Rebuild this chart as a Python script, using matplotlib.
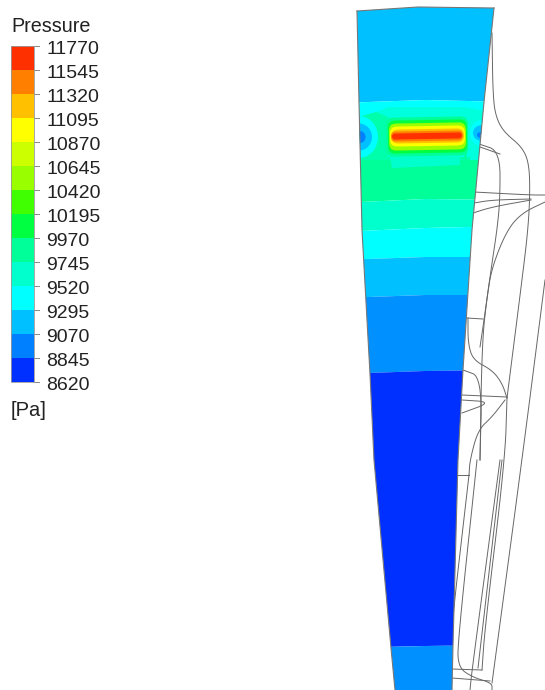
import matplotlib.pyplot as plt
from matplotlib.patches import FancyBboxPatch, Ellipse, Polygon
from matplotlib.transforms import Affine2D

plt.rcParams['font.family'] = ['Liberation Sans', 'DejaVu Sans']

# legend
tick_labels = ['11770', '11545', '11320', '11095', '10870', '10645', '10420', '10195',
               '9970', '9745', '9520', '9295', '9070', '8845', '8620']
band_colours = ['#ff3000', '#ff8000', '#ffc000', '#ffff00', '#ccff00', '#99ff00', '#40ff00',
                '#00ff40', '#00ff99', '#00ffcc', '#00ffff', '#00c0ff', '#0080ff', '#0030ff']

# blade outline, in picture pixels
blade_left = [(357, 11), (359, 102), (362, 230), (370, 374), (374, 460), (391, 648), (395, 690)]
blade_top = [(357, 11), (418, 7), (494, 8)]
blade_right = [(494, 8), (484, 102), (472, 230), (463, 370), (458, 460), (453, 645), (452, 690)]

# contour bands, top to bottom: colour and lower boundary (left, middle, right)
contour_colours = ['#00c0ff', '#00ffff', '#00ff99', '#00ffcc', '#00ffff', '#00c0ff', '#0090ff',
                   '#0030ff', '#0090ff']
contour_bottoms = [(103, 100, 102), (157, 157, 157), (203, 199, 200), (232, 228, 226),
                   (260, 257, 257), (298, 295, 295), (374, 371, 370), (648, 646, 645),
                   (690, 690, 690)]

# hot spot levels, outermost first
hot_colours = ['#00ff99', '#00ff40', '#99ff00', '#ffff00', '#ffc000', '#ff8000', '#ff3000']
hot_x0 = [386, 388, 389, 390, 391, 391, 392]
hot_x1 = [468, 467, 466, 465, 464, 463, 462]
hot_y0 = [117, 120, 123, 126, 129, 131, 133]
hot_y1 = [156, 153, 150, 146, 143, 141, 139]

# side spots: centre x, centre y, width, height, colour
spot_x = [359, 359, 360, 482, 482, 481]
spot_y = [137, 137, 137, 133, 133, 135]
spot_w = [38, 26, 11, 24, 18, 8]
spot_h = [42, 27, 12, 26, 16, 6]
spot_colours = ['#00ffff', '#00c0ff', '#0080ff', '#00ffff', '#00c0ff', '#0080ff']

wires = [
    [(492, 33), (493, 100), (497, 120), (505, 133), (522, 147), (529, 163), (530, 193), (528, 230),
     (522, 280), (507, 398)],
    [(479, 144), (500, 151), (500, 200), (497, 230), (492, 263), (483, 327), (480, 347)],
    [(480, 147), (500, 154)],
    [(474, 192), (530, 195), (545, 195)],
    [(474, 203), (492, 200), (531, 199)],
    [(473, 213), (492, 207), (531, 200)],
    [(545, 202), (522, 213), (507, 230), (492, 267), (487, 297), (482, 343), (480, 460)],
    [(545, 280), (522, 460), (492, 683)],
    [(467, 318), (483, 319)],
    [(468, 318), (468, 343), (473, 360), (492, 370), (502, 383), (507, 398)],
    [(507, 398), (505, 460), (485, 627), (482, 670)],
    [(482, 670), (451, 669)],
    [(462, 395), (507, 397)],
    [(463, 370), (482, 377), (480, 460)],
    [(477, 460), (458, 640), (458, 667), (472, 677), (492, 683), (492, 690)],
    [(462, 400), (492, 402), (462, 413)],
    [(505, 400), (492, 417), (478, 430), (470, 460), (469, 475)],
    [(469, 475), (457, 475)],
    [(469, 475), (450, 640), (452, 660)],
    [(500, 460), (472, 670), (470, 690)],
    [(502, 460), (478, 668)],
    [(452, 678), (490, 681)],
]


def smooth(points):
    # corner cutting so the wire curves do not look faceted
    for _ in range(3):
        new = [points[0]]
        for a, b in zip(points[:-1], points[1:]):
            new.append((0.75 * a[0] + 0.25 * b[0], 0.75 * a[1] + 0.25 * b[1]))
            new.append((0.25 * a[0] + 0.75 * b[0], 0.25 * a[1] + 0.75 * b[1]))
        new.append(points[-1])
        points = new
    return points


fig = plt.figure(figsize=(5.45, 6.90), dpi=100)
ax = fig.add_axes([0, 0, 1, 1])
ax.set_xlim(0, 545)
ax.set_ylim(690, 0)
ax.axis('off')

# wireframe goes under the blade
for wire in wires:
    line = smooth(wire)
    ax.plot([p[0] for p in line], [p[1] for p in line], color='#666666', lw=0.7, zorder=1)

outline = blade_top + blade_right[1:] + blade_left[::-1][:-1]
clip = Polygon(outline, closed=True, transform=ax.transData, fc='none', ec='none')
ax.add_patch(clip)


def add_clipped(patch):
    ax.add_patch(patch)
    patch.set_clip_path(clip)


# contour bands
top = (0, 0, 0)
for colour, bottom in zip(contour_colours, contour_bottoms):
    add_clipped(Polygon([(340, top[0]), (425, top[1]), (510, top[2]),
                         (510, bottom[2]), (425, bottom[1]), (340, bottom[0])],
                        closed=True, fc=colour, ec='none', zorder=2))
    top = bottom

# zones behind the hot spot
add_clipped(Polygon([(355, 122), (376, 112), (388, 107), (465, 107), (490, 112), (490, 160), (355, 160)],
                    closed=True, fc='#00ffdd', ec='none', zorder=3))
add_clipped(Polygon([(355, 160), (355, 118), (376, 112), (388, 117), (388, 157), (470, 157), (470, 160)],
                    closed=True, fc='#00ffaa', ec='none', zorder=3))
add_clipped(Polygon([(390, 156), (460, 156), (460, 165), (392, 168)],
                    closed=True, fc='#00ffcc', ec='none', zorder=3))
add_clipped(Polygon([(464, 152), (467, 152), (465, 166)],
                    closed=True, fc='#00ff99', ec='none', zorder=3))

# low pressure spots on both sides
for x, y, w, h, colour in zip(spot_x, spot_y, spot_w, spot_h, spot_colours):
    add_clipped(Ellipse((x, y), w, h, fc=colour, ec='none', zorder=4))

tilt = Affine2D().rotate_deg_around(427, 136, -1.0) + ax.transData
for colour, x0, x1, y0, y1 in zip(hot_colours, hot_x0, hot_x1, hot_y0, hot_y1):
    r = min(7, (y1 - y0) / 2)
    box = FancyBboxPatch((x0 + r, y0 + r), x1 - x0 - 2 * r, y1 - y0 - 2 * r,
                         boxstyle='round,pad=%.1f,rounding_size=%.1f' % (r, r),
                         fc=colour, ec='none', zorder=5)
    ax.add_patch(box)
    box.set_transform(tilt)

for edge in (blade_left, blade_top, blade_right):
    ax.plot([p[0] for p in edge], [p[1] for p in edge], color='#777777', lw=0.8, zorder=6)

# legend bar
bar_top = 46
bar_step = 24
for i, colour in enumerate(band_colours):
    ax.bar(22.5, bar_step, width=23, bottom=bar_top + i * bar_step, color=colour, zorder=2)
ax.plot([11, 34, 34, 11, 11], [46, 46, 382, 382, 46], color='#999999', lw=0.6, zorder=3)

for i, label in enumerate(tick_labels):
    y = bar_top + i * bar_step
    ax.plot([34, 39], [y, y], color='#888888', lw=0.7)
    x = 47 if len(label) == 5 else 46
    ax.text(x, y + 4, label, fontsize=14, color='#222222', ha='left', va='center')

ax.text(11, 27, 'Pressure', fontsize=14.2, color='#222222', ha='left', va='center')
ax.text(11, 410, '[Pa]', fontsize=14.5, color='#222222', ha='left', va='center')

fig.savefig('out.png', dpi=100)
